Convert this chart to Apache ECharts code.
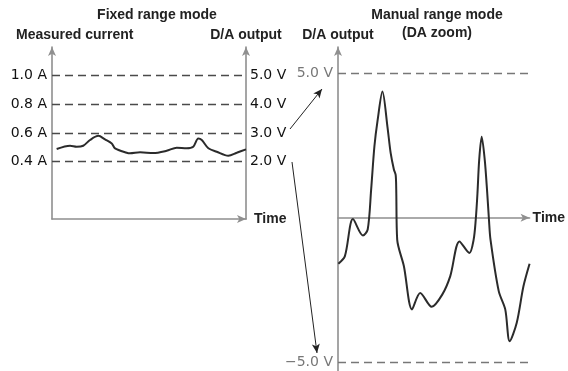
<!DOCTYPE html>
<html>
<head>
<meta charset="utf-8">
<script src="https://cdn.jsdelivr.net/npm/echarts@6/dist/echarts.min.js"></script>
<style>
html,body{margin:0;padding:0;background:#fff;}
#chart{width:568px;height:371px;}
</style>
</head>
<body>
<div id="chart"></div>
<script>
// fixed range mode: measured current over time
var leftTime = [2.4, 9.3, 12.7, 16.1, 19.6, 23.9, 27.3, 30.8, 32.5, 38.5, 40.2, 45.4, 52.2, 59.1, 64.3, 69.4, 72.8, 75.4, 77.2, 80.6, 84.9, 90.9, 95.2, 100];
var leftCurrent = [0.488, 0.511, 0.504, 0.511, 0.551, 0.58, 0.555, 0.527, 0.493, 0.462, 0.458, 0.465, 0.46, 0.476, 0.497, 0.493, 0.504, 0.562, 0.551, 0.493, 0.469, 0.441, 0.462, 0.486];
var currentTicks = [0.4, 0.6, 0.8, 1.0];
var currentLabels = ['0.4 A', '0.6 A', '0.8 A', '1.0 A'];
var voltTicks = [2, 3, 4, 5];
var voltLabels = ['2.0 V', '3.0 V', '4.0 V', '5.0 V'];

// manual range mode (DA zoom): D/A output over time
var rightTime = [0.2, 3.6, 7.8, 13.0, 15.5, 17.3, 19.0, 20.7, 23.2, 25.8, 27.5, 29.2, 30.1, 30.4, 30.9, 34.4, 38.6, 42.9, 48.9, 54.4, 58.6, 63.4, 68.6, 70.8, 71.9, 72.8, 73.7, 75.0, 76.6, 77.9, 78.8, 79.6, 83.9, 87.3, 89.6, 93.3, 96.8, 100];
var rightVolt = [-1.59, -1.33, -0.05, -0.62, -0.41, 0.97, 2.46, 3.38, 4.36, 3.15, 2.23, 1.66, 1.48, 0.97, -0.76, -1.68, -3.17, -2.6, -3.08, -2.66, -2.02, -0.82, -1.22, -0.76, -0.07, 0.85, 2.0, 2.8, 2.0, 0.85, -0.07, -0.76, -2.54, -3.17, -4.27, -3.63, -2.37, -1.59];
var zoomTicks = [-5, 5];
var zoomLabels = ['\u22125.0 V', '5.0 V'];

function zip(a, b) {
  return a.map(function (v, i) { return [v, b[i]]; });
}
function labelFor(ticks, labels) {
  return function (v) {
    for (var i = 0; i < ticks.length; i++) {
      if (Math.abs(ticks[i] - v) < 1e-6) return labels[i];
    }
    return '';
  };
}

var axisGray = '#8f8f8f';
var dashLine = {color: '#4a4a4a', width: 1.4, type: [8, 5]};
var titleFont = 'bold 14px "Liberation Sans", Arial, sans-serif';
var nameStyle = {color: '#222', fontFamily: '"Liberation Sans", Arial, sans-serif', fontWeight: 'bold', fontSize: 14};

var mycharts = echarts.init(document.getElementById('chart'));
var options = {
  animation: false,
  backgroundColor: '#fff',
  textStyle: {fontFamily: '"DejaVu Sans", sans-serif'},
  grid: [
    {left: 52, right: 322, top: 47, bottom: 152},
    {left: 338, right: 35, top: 47, bottom: 0}
  ],
  xAxis: [
    {
      gridIndex: 0, type: 'value', min: 0, max: 100,
      axisLine: {onZero: false, symbol: ['none', 'arrow'], symbolSize: [6, 9], lineStyle: {color: axisGray, width: 1.6}},
      axisTick: {show: false}, axisLabel: {show: false}, splitLine: {show: false},
      name: 'Time', nameLocation: 'end', nameGap: 8, nameTextStyle: nameStyle
    },
    {
      gridIndex: 1, type: 'value', min: 0, max: 100,
      axisLine: {onZero: true, symbol: ['none', 'arrow'], symbolSize: [6, 9], lineStyle: {color: axisGray, width: 1.6}},
      axisTick: {show: false}, axisLabel: {show: false}, splitLine: {show: false},
      name: 'Time', nameLocation: 'end', nameGap: 3, nameTextStyle: nameStyle
    }
  ],
  yAxis: [
    {
      gridIndex: 0, type: 'value', min: 0, max: 1.2, interval: 0.2,
      axisLine: {show: true, onZero: false, symbol: ['none', 'arrow'], symbolSize: [6, 9], lineStyle: {color: axisGray, width: 1.6}},
      axisTick: {show: false}, splitLine: {show: false},
      axisLabel: {customValues: currentTicks, formatter: labelFor(currentTicks, currentLabels), color: '#111', fontSize: 14, margin: 5}
    },
    {
      gridIndex: 0, type: 'value', position: 'right', min: 0, max: 6, interval: 1,
      axisLine: {show: true, onZero: false, symbol: ['none', 'arrow'], symbolSize: [6, 9], lineStyle: {color: axisGray, width: 1.6}},
      axisTick: {show: false}, splitLine: {show: false},
      axisLabel: {customValues: voltTicks, formatter: labelFor(voltTicks, voltLabels), color: '#111', fontSize: 14, margin: 4}
    },
    {
      gridIndex: 1, type: 'value', min: -5.3, max: 5.9,
      axisLine: {show: true, onZero: false, symbol: ['none', 'arrow'], symbolSize: [6, 9], lineStyle: {color: axisGray, width: 1.6}},
      axisTick: {show: false}, splitLine: {show: false},
      axisLabel: {customValues: zoomTicks, formatter: labelFor(zoomTicks, zoomLabels), color: '#777', fontSize: 14, margin: 5}
    }
  ],
  series: [
    {
      name: 'Measured current', type: 'line', xAxisIndex: 0, yAxisIndex: 0,
      data: zip(leftTime, leftCurrent), symbol: 'none', smooth: 0.3,
      lineStyle: {color: '#2b2b2b', width: 2}, silent: true,
      markLine: {
        silent: true, symbol: 'none', label: {show: false}, lineStyle: dashLine,
        data: currentTicks.map(function (v) { return {yAxis: v}; })
      }
    },
    {
      name: 'D/A output', type: 'line', xAxisIndex: 1, yAxisIndex: 2,
      data: zip(rightTime, rightVolt), symbol: 'none', smooth: 0.3,
      lineStyle: {color: '#2b2b2b', width: 2, join: 'round'}, silent: true,
      markLine: {
        silent: true, symbol: 'none', label: {show: false},
        lineStyle: {color: '#777', width: 1.4, type: [8, 5]},
        data: zoomTicks.map(function (v) { return {yAxis: v}; }).concat([
          // zoom arrows between the two charts
          [{x: 290, y: 129, symbol: 'none'}, {x: 322, y: 89, symbol: 'arrow', symbolSize: [6, 9], lineStyle: {color: '#222', width: 1, type: 'solid'}}],
          [{x: 292, y: 162, symbol: 'none'}, {x: 317, y: 353, symbol: 'arrow', symbolSize: [6, 9], lineStyle: {color: '#222', width: 1, type: 'solid'}}]
        ])
      }
    }
  ],
  graphic: [
    {type: 'text', x: 157, y: 15, style: {text: 'Fixed range mode', font: titleFont, fill: '#222', align: 'center', verticalAlign: 'middle'}},
    {type: 'text', x: 16, y: 35, style: {text: 'Measured current', font: titleFont, fill: '#222', align: 'left', verticalAlign: 'middle'}},
    {type: 'text', x: 246, y: 35, style: {text: 'D/A output', font: titleFont, fill: '#222', align: 'center', verticalAlign: 'middle'}},
    {type: 'text', x: 338, y: 35, style: {text: 'D/A output', font: titleFont, fill: '#222', align: 'center', verticalAlign: 'middle'}},
    {type: 'text', x: 437, y: 15, style: {text: 'Manual range mode', font: titleFont, fill: '#222', align: 'center', verticalAlign: 'middle'}},
    {type: 'text', x: 437, y: 33, style: {text: '(DA zoom)', font: titleFont, fill: '#222', align: 'center', verticalAlign: 'middle'}}
  ]
};
mycharts.setOption(options, true);
window.addEventListener('resize', function () { mycharts.resize(); });
</script>
</body>
</html>
